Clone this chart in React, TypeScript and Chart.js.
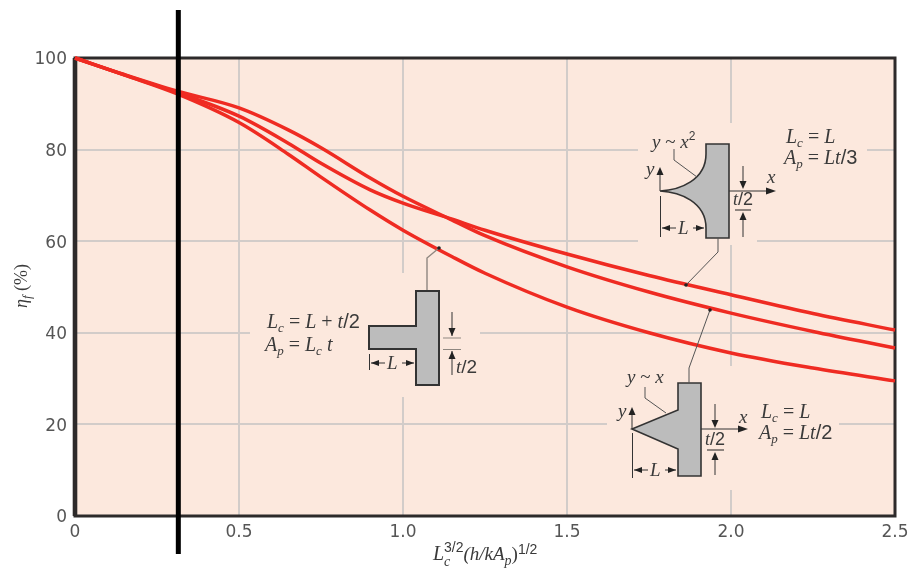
import React, { useEffect, useRef } from "react";
import { Chart, registerables } from "chart.js";

Chart.register(...registerables);

const xValues = [0, 0.15, 0.31, 0.5, 0.65, 0.75, 0.9, 1.0, 1.15, 1.25, 1.5, 1.75, 2.0, 2.25, 2.5];
const triangularFin = [100, 96.4, 92.8, 89.1, 84.3, 80.4, 73.8, 69.8, 64.6, 61.2, 54.4, 48.9, 44.3, 40.3, 36.7];
const parabolicFin = [100, 96.3, 92.5, 87.3, 81.4, 77, 71.2, 68.3, 64.8, 62.4, 57.2, 52.5, 48.3, 44.2, 40.6];
const rectangularFin = [100, 96.3, 92.2, 85.9, 79, 74, 66.8, 62.4, 56.6, 53, 45.6, 40, 35.6, 32.3, 29.5];
const xTicks = [0, 0.5, 1.0, 1.5, 2.0, 2.5];
const markerX = 0.315;

const SERIF = '"Liberation Serif"';
const SANS = '"Liberation Sans"';
const INK = "#3a3a3a";
const BG = "#fce8dd";

type Seg = { t: string; f?: string; s?: number; dy?: number; adv?: number };

function rich(ctx: CanvasRenderingContext2D, x: number, y: number, segs: Seg[], base = 20) {
  ctx.save();
  ctx.textAlign = "left";
  ctx.textBaseline = "alphabetic";
  ctx.fillStyle = INK;
  let cx = x;
  for (const g of segs) {
    const style = g.f ?? `italic SERIF`;
    const size = g.s ?? base;
    ctx.font = style.replace("SERIF", `${size}px ${SERIF}`).replace("SANS", `${size}px ${SANS}`);
    ctx.fillText(g.t, cx, y + (g.dy ?? 0));
    cx += g.adv ?? ctx.measureText(g.t).width;
  }
  ctx.restore();
}

const UP = "SERIF";
const SN = "SANS";

function poly(ctx: CanvasRenderingContext2D, pts: number[][], color = "#555", w = 1) {
  ctx.save();
  ctx.strokeStyle = color;
  ctx.lineWidth = w;
  ctx.beginPath();
  pts.forEach((p, i) => (i ? ctx.lineTo(p[0], p[1]) : ctx.moveTo(p[0], p[1])));
  ctx.stroke();
  ctx.restore();
}

function head(ctx: CanvasRenderingContext2D, x: number, y: number, dir: "u" | "d" | "l" | "r", len = 8, half = 3.5) {
  const a: Record<string, number[][]> = {
    u: [[x - half, y + len], [x + half, y + len]],
    d: [[x - half, y - len], [x + half, y - len]],
    l: [[x + len, y - half], [x + len, y + half]],
    r: [[x - len, y - half], [x - len, y + half]],
  };
  ctx.save();
  ctx.fillStyle = "#222";
  ctx.beginPath();
  ctx.moveTo(x, y);
  ctx.lineTo(a[dir][0][0], a[dir][0][1]);
  ctx.lineTo(a[dir][1][0], a[dir][1][1]);
  ctx.closePath();
  ctx.fill();
  ctx.restore();
}

function dot(ctx: CanvasRenderingContext2D, x: number, y: number) {
  ctx.save();
  ctx.fillStyle = "#222";
  ctx.beginPath();
  ctx.arc(x, y, 1.8, 0, Math.PI * 2);
  ctx.fill();
  ctx.restore();
}

function shape(ctx: CanvasRenderingContext2D, draw: () => void, w = 1.6) {
  ctx.save();
  ctx.fillStyle = "#bcbcbc";
  ctx.strokeStyle = "#333";
  ctx.lineWidth = w;
  ctx.lineJoin = "miter";
  ctx.beginPath();
  draw();
  ctx.closePath();
  ctx.fill();
  ctx.stroke();
  ctx.restore();
}

function lDim(ctx: CanvasRenderingContext2D, y: number, x0: number, lblX: number, x1: number) {
  poly(ctx, [[x0 + 1, y], [lblX - 8, y]], "#333");
  poly(ctx, [[lblX + 9, y], [x1 - 1, y]], "#333");
  head(ctx, x0 + 1, y, "l", 8, 3);
  head(ctx, x1 - 1, y, "r", 8, 3);
  rich(ctx, lblX - 6, y + 6, [{ t: "L" }], 19);
}

const frame = {
  id: "frame",
  beforeDraw(c: any) {
    const { ctx, chartArea: a } = c;
    ctx.save();
    ctx.fillStyle = BG;
    ctx.fillRect(a.left, a.top, a.right - a.left, a.bottom - a.top);
    ctx.restore();
  },
  beforeDatasetsDraw(c: any) {
    const { ctx, chartArea: a } = c;
    ctx.save();
    ctx.fillStyle = BG;
    const gaps = [
      [638, 146, 229, 6], [638, 238, 119, 6], [250, 330, 230, 6], [607, 422, 232, 6],
      [728, 123, 6, 122], [728, 366, 6, 124], [400, 273, 7, 124],
    ];
    gaps.forEach((g) => ctx.fillRect(g[0], g[1], g[2], g[3]));
    ctx.strokeStyle = "#2d2a2a";
    ctx.lineWidth = 3;
    ctx.strokeRect(a.left, a.top, a.right - a.left, a.bottom - a.top);
    ctx.fillStyle = "#2d2a2a";
    ctx.fillRect(a.left - 2.3, a.top, 4.6, a.bottom - a.top);
    ctx.restore();
  },
  afterDatasetsDraw(c: any) {
    const { ctx } = c;

    // Rectangular fin
    shape(ctx, () => {
      [[416, 291], [439, 291], [439, 385], [416, 385], [416, 349], [369, 349], [369, 326], [416, 326]].forEach((p, i) =>
        i ? ctx.lineTo(p[0], p[1]) : ctx.moveTo(p[0], p[1])
      );
    }, 2);
    poly(ctx, [[427, 290], [427, 258], [439, 248]], "#8f8780", 1.4);
    dot(ctx, 439, 248);
    poly(ctx, [[369.5, 354], [369.5, 370]], "#333");
    lDim(ctx, 363, 370, 393, 415);
    poly(ctx, [[452, 312], [452, 336]], "#333");
    head(ctx, 452, 336, "d");
    poly(ctx, [[443, 338], [461, 338]], "#8f8780");
    poly(ctx, [[443, 349.5], [461, 349.5]], "#8f8780");
    poly(ctx, [[452, 351], [452, 375]], "#333");
    head(ctx, 452, 351, "u");
    rich(ctx, 456, 373, [{ t: "t" }, { t: "/2", f: SN }], 19);
    rich(ctx, 267, 328, [{ t: "L" }, { t: "c", s: 13, dy: 4 }, { t: " = ", f: UP }, { t: "L" }, { t: " + ", f: UP }, { t: "t" }, { t: "/2", f: SN }]);
    rich(ctx, 265, 351, [{ t: "A" }, { t: "p", s: 13, dy: 4 }, { t: " = ", f: UP }, { t: "L" }, { t: "c", s: 13, dy: 4 }, { t: " ", f: UP }, { t: "t" }]);

    // Parabolic fin
    shape(ctx, () => {
      ctx.moveTo(706, 144);
      ctx.lineTo(729, 144);
      ctx.lineTo(729, 238);
      ctx.lineTo(706, 238);
      ctx.lineTo(706, 228);
      ctx.bezierCurveTo(706, 202, 680, 192, 660, 191);
      ctx.bezierCurveTo(680, 190, 706, 180, 706, 154);
    });
    poly(ctx, [[718, 238], [718, 252], [686, 285]], "#555");
    dot(ctx, 686, 285);
    poly(ctx, [[660, 191], [660, 172]], "#333");
    head(ctx, 660, 167, "u");
    poly(ctx, [[729, 191], [768, 191]], "#333");
    head(ctx, 776, 191, "r", 10, 3.5);
    poly(ctx, [[743, 166], [743, 186]], "#333");
    head(ctx, 743, 189, "d");
    rich(ctx, 733, 205, [{ t: "t" }, { t: "/2", f: SN }], 18);
    poly(ctx, [[735, 210], [751, 210]], "#222");
    poly(ctx, [[743, 214], [743, 237]], "#333");
    head(ctx, 743, 212, "u");
    poly(ctx, [[660.5, 196], [660.5, 237]], "#333");
    lDim(ctx, 228, 661, 684, 705);
    rich(ctx, 652, 148, [{ t: "y" }, { t: " ~ ", f: UP }, { t: "x" }, { t: "2", f: SN, s: 12, dy: -8 }], 19);
    poly(ctx, [[674, 149], [674, 160], [697, 177]], "#555");
    rich(ctx, 646, 175, [{ t: "y" }], 19);
    rich(ctx, 767, 183, [{ t: "x" }], 19);
    rich(ctx, 786, 143, [{ t: "L" }, { t: "c", s: 13, dy: 4 }, { t: " = ", f: UP }, { t: "L" }]);
    rich(ctx, 784, 164, [{ t: "A" }, { t: "p", s: 13, dy: 4 }, { t: " = ", f: UP }, { t: "Lt" }, { t: "/3", f: SN }]);

    // Triangular fin
    shape(ctx, () => {
      [[678, 383], [701, 383], [701, 476], [678, 476], [678, 449], [632, 429], [678, 410]].forEach((p, i) =>
        i ? ctx.lineTo(p[0], p[1]) : ctx.moveTo(p[0], p[1])
      );
    });
    poly(ctx, [[689, 383], [689, 368], [710, 310]], "#555");
    dot(ctx, 710, 310);
    poly(ctx, [[632, 429], [632, 412]], "#333");
    head(ctx, 632, 407, "u");
    rich(ctx, 618, 417, [{ t: "y" }], 19);
    poly(ctx, [[701, 429], [740, 429]], "#333");
    head(ctx, 748, 429, "r", 10, 3.5);
    rich(ctx, 739, 423, [{ t: "x" }], 19);
    poly(ctx, [[715, 404], [715, 425]], "#333");
    head(ctx, 715, 428, "d");
    rich(ctx, 705, 445, [{ t: "t" }, { t: "/2", f: SN }], 18);
    poly(ctx, [[707, 450], [724, 450]], "#222");
    poly(ctx, [[715, 454], [715, 475]], "#333");
    head(ctx, 715, 452, "u");
    poly(ctx, [[632.5, 433], [632.5, 478]], "#333");
    lDim(ctx, 470, 633, 656, 677);
    rich(ctx, 627, 383, [{ t: "y" }, { t: " ~ ", f: UP }, { t: "x" }], 19);
    poly(ctx, [[645, 387], [645, 398], [666, 413]], "#555");
    rich(ctx, 761, 418, [{ t: "L" }, { t: "c", s: 13, dy: 4 }, { t: " = ", f: UP }, { t: "L" }]);
    rich(ctx, 759, 439, [{ t: "A" }, { t: "p", s: 13, dy: 4 }, { t: " = ", f: UP }, { t: "Lt" }, { t: "/2", f: SN }]);

    // Axis titles
    rich(ctx, 433, 560, [
      { t: "L", s: 20, adv: 11 },
      { t: "c", s: 14, dy: 6, adv: 0 },
      { t: "3/2", f: SN, s: 14, dy: -8 },
      { t: "(h/kA", s: 19 },
      { t: "p", s: 14, dy: 5 },
      { t: ")", s: 19, f: UP },
      { t: "1/2", f: SN, s: 14, dy: -6 },
    ]);
    ctx.save();
    ctx.translate(27, 308);
    ctx.rotate(-Math.PI / 2);
    rich(ctx, 0, 0, [{ t: "η", s: 18 }, { t: "f", s: 13, dy: 4 }, { t: " (%)", f: UP, s: 18 }]);
    ctx.restore();

    // Vertical marker
    const px = c.scales.x.getPixelForValue(markerX);
    ctx.save();
    ctx.fillStyle = "#000";
    ctx.fillRect(px - 2.5, 10, 5, 544);
    ctx.restore();
  },
};

export default function App() {
  const ref = useRef<HTMLCanvasElement>(null);
  useEffect(() => {
    document.body.style.margin = "0";
    const series = [triangularFin, parabolicFin, rectangularFin];
    const chart = new Chart(ref.current!, {
      type: "line",
      data: {
        labels: xValues,
        datasets: series.map((vals) => ({
          data: vals.map((y, i) => ({ x: xValues[i], y })),
          borderColor: "#ef2b22",
          borderWidth: 3.5,
          pointRadius: 0,
          cubicInterpolationMode: "monotone" as const,
          clip: false as any,
        })),
      },
      plugins: [frame],
      options: {
        responsive: false,
        animation: false,
        layout: { padding: { top: 58, right: 17, bottom: 0, left: 0 } },
        plugins: { legend: { display: false }, tooltip: { enabled: false } },
        scales: {
          x: {
            type: "linear",
            min: 0,
            max: 2.5,
            afterFit: (s: any) => { s.height = 58; s.paddingRight = 0; s.paddingLeft = 0; },
            afterBuildTicks: (s: any) => { s.ticks = xTicks.map((value) => ({ value })); },
            grid: { color: "#d2ccc9", lineWidth: 2, drawTicks: false },
            border: { display: false },
            ticks: {
              color: "#555",
              font: { family: "DejaVu Sans", size: 17 },
              padding: 6,
              maxRotation: 0,
              callback: (v: any) => (v === 0 ? "0" : Number(v).toFixed(1)),
            },
          },
          y: {
            min: 0,
            max: 100,
            afterFit: (s: any) => { s.width = 75; },
            grid: { color: "#d2ccc9", lineWidth: 2, drawTicks: false },
            border: { display: false },
            ticks: {
              color: "#555",
              stepSize: 20,
              font: { family: "DejaVu Sans", size: 17 },
              padding: 8,
              labelOffset: 2,
            },
          },
        },
      },
    });
    return () => chart.destroy();
  }, []);
  return <canvas ref={ref} width={912} height={574} style={{ display: "block" }} />;
}
